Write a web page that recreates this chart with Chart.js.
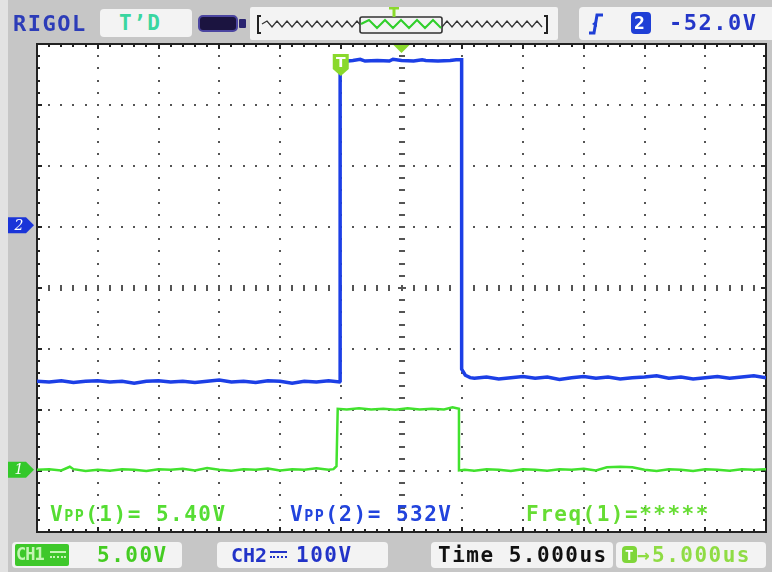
<!DOCTYPE html>
<html>
<head>
<meta charset="utf-8">
<script src="https://cdn.jsdelivr.net/npm/chart.js@4.4.1/dist/chart.umd.min.js"></script>
<style>
  body { margin: 0; background: #c6c6c6; }
  #screen { position: relative; width: 772px; height: 572px; overflow: hidden; background: #c6c6c6;
            font-family: "DejaVu Sans Mono", monospace; font-weight: bold; }
  #edgeL { position: absolute; left: 0; top: 0; width: 8px; height: 572px; background: #e2e2e2; }
  #scope { position: absolute; left: 0; top: 0; }
  .box { position: absolute; background: #f3f3f3; border-radius: 4px; }
  .txt { position: absolute; white-space: pre; line-height: 1; font-size: 21px; letter-spacing: 1.5px; }
  .sc { font-variant: small-caps; }
  .dc { display: inline-block; position: absolute; height: 3px; border-top: 2px solid; border-bottom: 2px dotted; }
</style>
</head>
<body>
<div id="screen">
  <div id="edgeL"></div>
  <canvas id="scope" width="772" height="572"></canvas>

  <!-- top status bar -->
  <div class="txt" style="left:13px;top:13px;color:#2c3cb8;font-size:22px;">RIGOL</div>
  <div class="box" style="left:100px;top:9px;width:92px;height:28px;"></div>
  <div class="txt" style="left:119px;top:13px;color:#3ad6a0;">T’D</div>
  <div style="position:absolute;left:198px;top:15px;width:36px;height:13px;background:#1b1440;border:2px solid #4b45a0;border-radius:5px;"></div>
  <div style="position:absolute;left:239px;top:19px;width:7px;height:9px;background:#2a2470;border-radius:1px;"></div>
  <div class="box" style="left:250px;top:7px;width:308px;height:33px;border-radius:2px;">
    <svg id="memBar" width="308" height="33" style="position:absolute;left:0;top:0"></svg>
  </div>
  <div class="box" style="left:579px;top:7px;width:193px;height:33px;border-radius:4px 0 0 4px;">
    <svg width="24" height="33" style="position:absolute;left:8px;top:0">
      <path d="M2 26 H7 L10 8 H16" fill="none" stroke="#1f3fd6" stroke-width="3"/>
      <path d="M5 17 L10 13 L10 20 Z" fill="#1f3fd6"/>
    </svg>
    <div style="position:absolute;left:52px;top:5px;width:20px;height:22px;background:#1f3fd6;border-radius:4px;"></div>
    <div class="txt" style="left:55px;top:7px;color:#ffffff;font-size:18px;letter-spacing:0;">2</div>
    <div class="txt" style="left:90px;top:5px;color:#2436c8;font-size:22px;">-52.0V</div>
  </div>

  <!-- measurements inside the grid -->
  <div class="txt" style="left:50px;top:504px;color:#55dd33;">V<span class="sc">pp</span>(1)= 5.40V</div>
  <div class="txt" style="left:290px;top:504px;color:#2244dd;">V<span class="sc">pp</span>(2)= 532V</div>
  <div class="txt" style="left:526px;top:504px;color:#66dd33;">Freq(1)=*****</div>

  <!-- bottom status bar -->
  <div class="box" style="left:12px;top:542px;width:170px;height:26px;"></div>
  <div style="position:absolute;left:15px;top:544px;width:54px;height:22px;background:#3ec82a;border-radius:2px;"></div>
  <div class="txt" style="left:16px;top:546px;color:#c4f5b4;font-size:17px;letter-spacing:-1px;">CH1</div>
  <div class="dc" style="left:50px;top:551px;width:16px;color:#c4f5b4;"></div>
  <div class="txt" style="left:97px;top:545px;color:#44cc22;">5.00V</div>

  <div class="box" style="left:217px;top:542px;width:171px;height:26px;"></div>
  <div class="txt" style="left:231px;top:545px;color:#2233c8;font-size:20px;letter-spacing:0;">CH2</div>
  <div class="dc" style="left:270px;top:551px;width:17px;color:#2233c8;"></div>
  <div class="txt" style="left:296px;top:545px;color:#2233c8;">100V</div>

  <div class="box" style="left:431px;top:542px;width:182px;height:26px;"></div>
  <div class="txt" style="left:438px;top:545px;color:#111111;">Time 5.000us</div>

  <div class="box" style="left:616px;top:542px;width:150px;height:26px;"></div>
  <div style="position:absolute;left:622px;top:546px;width:15px;height:17px;background:#7fd63a;border-radius:4px;"></div>
  <div class="txt" style="left:625px;top:548px;color:#ffffff;font-size:14px;letter-spacing:0;">T</div>
  <div class="txt" style="left:637px;top:545px;color:#8fdc44;letter-spacing:0;">→</div>
  <div class="txt" style="left:652px;top:545px;color:#8fdc44;">5.000us</div>
</div>

<script>
// time base 5 us/div, trigger at 0 us, screen centre at +5 us
const timeRange = [-25, 35];
// CH1 5 V/div, CH2 100 V/div (ranges set so the ground markers land where they are on screen)
const ch1Range = [-5.1, 34.9];
const ch2Range = [-503, 297];

// CH1 (green) trace, volts
const ch1Time = [
  -25, -24, -23, -22.3, -22, -21, -20, -19, -18, -17, -16, -15, -14, -13, -12, -11, -10, -9, -8, -7, -6, -5, -4, -3, -2, -1, -0.6,
  -0.35, -0.25,
  0.5, 1.5, 2.5, 3.5, 4.5, 5.5, 6.5, 7.5, 8.5, 9.2, 9.73,
  9.73, 10.2,
  11, 12, 13, 14, 15, 16, 17, 18, 19, 20, 21, 21.9, 23, 24, 25, 26, 27, 28, 29, 30, 31, 32, 33, 34, 35
];
const ch1Volts = [
  0, 0.05, -0.05, 0.25, 0.05, -0.1, 0, -0.08, 0.05, 0, -0.1, 0.05, 0, 0.08, -0.05, 0.15, 0, -0.08, 0.05, 0, 0.1, -0.05, 0.05, 0, 0.12, 0, 0.05,
  0.3, 5.0,
  4.95, 5.05, 4.95, 5.0, 4.92, 5.05, 4.95, 5.0, 4.95, 5.12, 5.0,
  -0.05, 0,
  -0.08, 0.05, 0, -0.1, 0.05, 0, -0.08, 0.05, 0, 0.08, -0.05, 0.2, 0.25, 0.2, 0, -0.1, 0.05, 0, -0.1, 0.05, 0, -0.08, 0.05, 0, 0.05
];

// CH2 (blue) trace, volts
const ch2Time = [
  -25, -24, -23, -22, -21, -20, -19, -18, -17, -16, -15, -14, -13, -12, -11, -10, -9, -8, -7, -6, -5, -4, -3, -2, -1, -0.1,
  -0.05, -0.05,
  1, 1.6, 2, 3, 4, 4.3, 5, 6, 6.7, 7, 8, 9, 9.5, 9.95,
  9.95, 10.25, 10.65,
  11, 12, 13, 14, 15, 16, 17, 18, 19, 20, 21, 22, 23, 24, 25, 26, 27, 28, 29, 30, 31, 32, 33, 34, 35
];
const ch2Volts = [
  -256, -257, -255, -258, -256, -255, -257, -256, -259, -256, -255, -257, -256, -258, -256, -254, -257, -256, -258, -255, -256, -259, -256, -257, -255, -257,
  -256, 268,
  270, 272, 269, 270, 269, 272, 270, 269, 271, 270, 269, 270, 271, 271,
  -236, -246, -250,
  -251, -249, -252, -250, -248, -251, -249, -253, -250, -248, -251, -249, -252, -250, -249, -247, -251, -249, -252, -250, -248, -251, -249, -247, -250
];

const ch1Color = '#42e22e';
const ch2Color = '#1c3fe6';
const markColor = '#8ad92c';

function toPoints(xs, ys) {
  return xs.map(function(t, i) { return { x: t, y: ys[i] }; });
}

// memory bar with zig-zag waveform
(function() {
  const svg = document.getElementById('memBar');
  let black = 'M12 17';
  for (let i = 0, x = 12; x < 292; i++, x += 5) {
    black += ' L' + (x + 5) + ' ' + (i % 2 ? 20 : 14);
  }
  let green = 'M111 17';
  for (let i = 0, x = 111; x < 188; i++, x += 8) {
    green += ' L' + (x + 8) + ' ' + (i % 2 ? 21 : 13);
  }
  svg.innerHTML =
    '<path d="' + black + '" fill="none" stroke="#333" stroke-width="1.3"/>' +
    '<rect x="110" y="10" width="82" height="16" rx="2" fill="#f3f3f3" stroke="#333" stroke-width="1.6"/>' +
    '<path d="' + green + '" fill="none" stroke="#2fcf2a" stroke-width="2"/>' +
    '<path d="M11 9 H8 V26 H11 M294 9 H297 V26 H294" fill="none" stroke="#222" stroke-width="2"/>' +
    '<path d="M139 1 H149 M144 1 V10" fill="none" stroke="' + markColor + '" stroke-width="3"/>';
})();

const scopeGrid = {
  id: 'scopeGrid',
  beforeDatasetsDraw(chart) {
    const { ctx, chartArea: a, scales } = chart;
    const xs = scales.x, yd = scales.yDiv;
    const cx = Math.round(xs.getPixelForValue(5));
    const cy = Math.round(yd.getPixelForValue(0));
    ctx.save();
    ctx.fillStyle = '#ffffff';
    ctx.fillRect(a.left, a.top, a.width, a.height);

    ctx.fillStyle = '#555555';
    // vertical division lines (dotted every 1/5 div)
    for (let k = 1; k < 12; k++) {
      const px = Math.round(xs.getPixelForValue(timeRange[0] + 5 * k));
      for (let m = 1; m < 40; m++) {
        const py = Math.round(yd.getPixelForValue(-4 + m * 0.2));
        if (k === 6) ctx.fillRect(px - 3, py - 1, 6, 2);
        else ctx.fillRect(px - 1, py - 1, 2, 2);
      }
    }
    // horizontal division lines
    for (let j = -3; j <= 3; j++) {
      const py = Math.round(yd.getPixelForValue(j));
      for (let t = timeRange[0] + 1; t < timeRange[1]; t++) {
        const px = Math.round(xs.getPixelForValue(t));
        if (j === 0) ctx.fillRect(px - 1, py - 3, 2, 6);
        else ctx.fillRect(px - 1, py - 1, 2, 2);
      }
    }
    ctx.fillRect(cx - 4, cy - 1, 8, 2);

    // frame with ticks
    ctx.fillStyle = '#222222';
    for (let t = timeRange[0] + 1; t < timeRange[1]; t++) {
      const px = Math.round(xs.getPixelForValue(t));
      const len = (t - timeRange[0]) % 5 === 0 ? 5 : 3;
      ctx.fillRect(px - 1, a.top, 2, len);
      ctx.fillRect(px - 1, a.bottom - len, 2, len);
    }
    for (let m = 1; m < 40; m++) {
      const py = Math.round(yd.getPixelForValue(-4 + m * 0.2));
      const len = m % 5 === 0 ? 5 : 3;
      ctx.fillRect(a.left, py - 1, len, 2);
      ctx.fillRect(a.right - len, py - 1, len, 2);
    }
    ctx.strokeStyle = '#222222';
    ctx.lineWidth = 2;
    ctx.strokeRect(a.left, a.top, a.width, a.height);
    ctx.restore();
  },
  afterDatasetsDraw(chart) {
    const { ctx, chartArea: a, scales } = chart;
    ctx.save();
    // horizontal trigger position (screen centre)
    const cx = scales.x.getPixelForValue(5);
    ctx.fillStyle = markColor;
    ctx.beginPath();
    ctx.moveTo(cx - 8, a.top + 1);
    ctx.lineTo(cx + 8, a.top + 1);
    ctx.lineTo(cx, a.top + 9);
    ctx.closePath();
    ctx.fill();

    // trigger point marker
    const tx = scales.x.getPixelForValue(0);
    ctx.beginPath();
    ctx.moveTo(tx - 8, 54);
    ctx.lineTo(tx + 8, 54);
    ctx.lineTo(tx + 8, 69);
    ctx.lineTo(tx, 76);
    ctx.lineTo(tx - 8, 69);
    ctx.closePath();
    ctx.fill();
    ctx.fillStyle = '#ffffff';
    ctx.font = 'bold 14px "DejaVu Sans"';
    ctx.textAlign = 'center';
    ctx.textBaseline = 'middle';
    ctx.fillText('T', tx, 63);

    // channel ground markers
    const marks = [
      { y: scales.yCh2.getPixelForValue(0), color: '#1a34d8', label: '2' },
      { y: scales.yCh1.getPixelForValue(0), color: '#33c82a', label: '1' }
    ];
    marks.forEach(function(m) {
      ctx.fillStyle = m.color;
      ctx.beginPath();
      ctx.moveTo(8, m.y - 8);
      ctx.lineTo(26, m.y - 8);
      ctx.lineTo(34, m.y);
      ctx.lineTo(26, m.y + 8);
      ctx.lineTo(8, m.y + 8);
      ctx.closePath();
      ctx.fill();
      ctx.fillStyle = '#ffffff';
      ctx.font = 'italic 14px "DejaVu Serif"';
      ctx.fillText(m.label, 19, m.y + 1);
    });
    ctx.restore();
  }
};

const ctx = document.getElementById('scope').getContext('2d');
new Chart(ctx, {
  type: 'line',
  data: {
    datasets: [
      {
        label: 'CH1',
        data: toPoints(ch1Time, ch1Volts),
        yAxisID: 'yCh1',
        borderColor: ch1Color,
        borderWidth: 2.5,
        pointRadius: 0,
        tension: 0,
        fill: false
      },
      {
        label: 'CH2',
        data: toPoints(ch2Time, ch2Volts),
        yAxisID: 'yCh2',
        borderColor: ch2Color,
        borderWidth: 3.5,
        pointRadius: 0,
        tension: 0,
        fill: false
      }
    ]
  },
  options: {
    responsive: false,
    animation: false,
    events: [],
    layout: { padding: { left: 37, right: 6, top: 44, bottom: 40 } },
    scales: {
      x: { type: 'linear', min: timeRange[0], max: timeRange[1], display: false },
      yCh1: { type: 'linear', min: ch1Range[0], max: ch1Range[1], display: false },
      yCh2: { type: 'linear', min: ch2Range[0], max: ch2Range[1], display: false },
      yDiv: { type: 'linear', min: -4, max: 4, display: false }
    },
    plugins: {
      legend: { display: false },
      tooltip: { enabled: false }
    }
  },
  plugins: [scopeGrid]
});
</script>
</body>
</html>
